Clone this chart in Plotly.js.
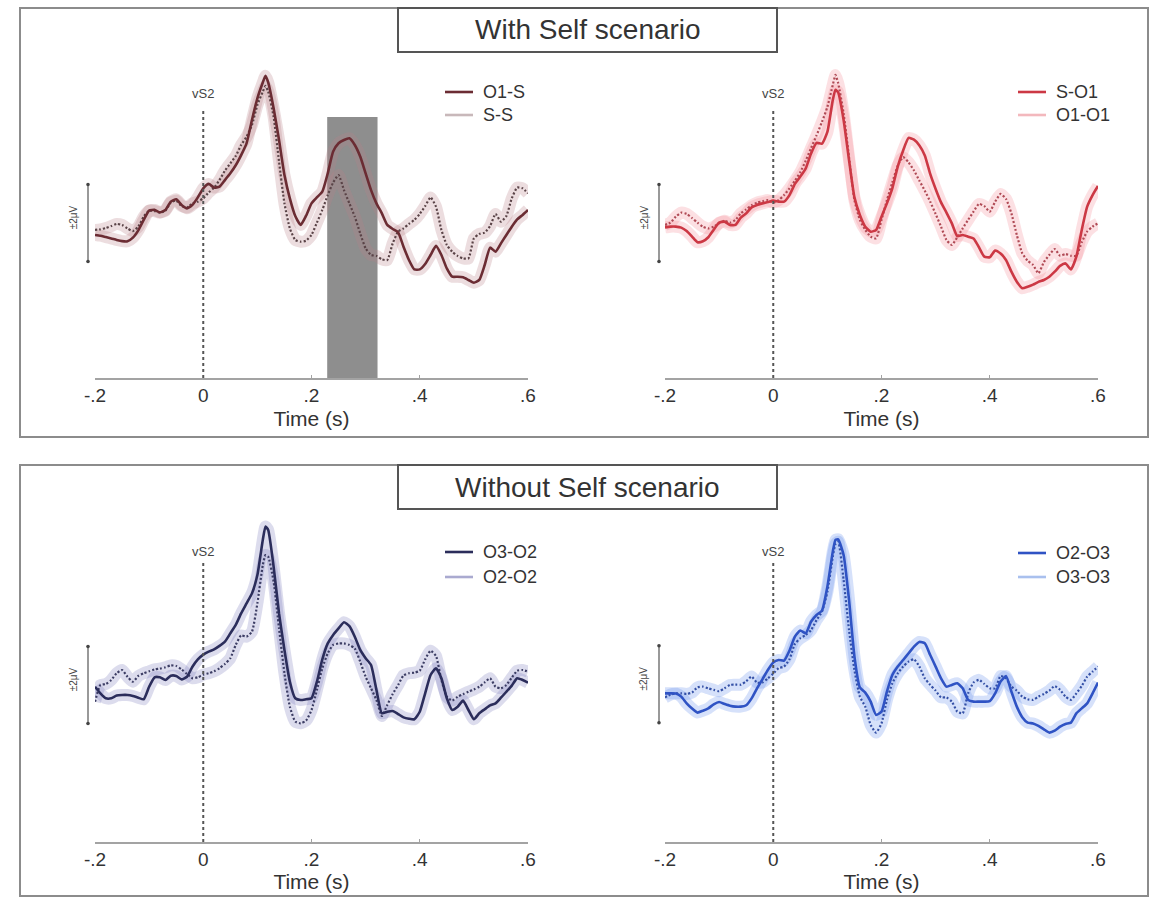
<!DOCTYPE html>
<html>
<head>
<meta charset="utf-8">
<script src="https://cdn.plot.ly/plotly-3.0.1.min.js"></script>
<style>html,body{margin:0;padding:0;background:#fff;}#chart{width:1166px;height:897px;}</style>
</head>
<body>
<div id="chart"></div>
<script>
// ---- data (time in s, amplitude in microvolts) ----
const T = [-0.2,-0.19,-0.18,-0.17,-0.16,-0.15,-0.14,-0.13,-0.12,-0.11,-0.1,-0.09,-0.08,-0.07,-0.06,-0.05,-0.04,-0.03,-0.02,-0.01,
  0,0.01,0.02,0.03,0.04,0.05,0.06,0.07,0.08,0.09,0.1,0.11,0.115,0.12,0.13,0.14,0.15,0.16,0.17,0.18,0.19,
  0.2,0.21,0.22,0.23,0.24,0.25,0.26,0.27,0.28,0.29,0.3,0.31,0.32,0.33,0.34,0.35,0.36,0.37,0.38,0.39,
  0.4,0.41,0.42,0.43,0.44,0.45,0.46,0.47,0.48,0.49,0.5,0.51,0.52,0.53,0.54,0.55,0.56,0.57,0.58,0.59,0.6];

// With Self scenario, left panel
const O1S = [-0.62,-0.66,-0.73,-0.80,-0.88,-0.94,-0.95,-0.76,-0.38,0.16,0.64,0.68,0.55,0.68,1.11,1.23,0.94,0.76,0.94,1.33,
  1.80,2.03,1.84,1.89,2.23,2.58,3.00,3.53,4.14,5.35,6.48,7.30,7.65,7.30,
  5.96,4.31,2.49,1.28,0.36,-0.10,0.38,1.02,1.33,1.63,2.58,3.71,4.14,4.31,4.40,4.05,3.45,2.58,1.71,1.02,
  0.50,-0.10,-0.31,-0.48,-1.23,-1.92,-2.41,-2.41,-2.13,-1.66,-1.19,-1.66,-2.36,-2.79,-2.79,-2.82,-2.96,-3.10,-2.96,-2.18,
  -1.28,-1.49,-1.06,-0.62,-0.19,0.19,0.42,0.68];
const SS = [-0.36,-0.33,-0.26,-0.16,-0.05,-0.10,-0.28,-0.42,-0.19,0.33,0.64,0.62,0.54,0.64,1.06,1.16,0.88,0.81,1.02,1.11,
  1.28,1.58,1.84,2.23,2.72,3.10,3.48,4.05,4.48,5.09,6.13,6.82,7.12,6.82,
  5.52,3.19,1.02,-0.28,-0.88,-0.97,-0.92,-0.62,0.02,0.68,1.45,2.10,2.49,1.71,1.02,0.33,-0.54,-1.32,-1.66,-1.71,
  -1.89,-1.92,-1.06,-0.45,-0.28,-0.05,0.16,0.47,0.88,1.33,0.85,-0.36,-1.14,-1.49,-1.71,-1.84,-1.84,-0.80,-0.57,-0.50,
  -0.16,0.47,0.07,0.36,1.28,1.84,1.80,1.54];
// With Self scenario, right panel
const SO1 = [-0.23,-0.19,-0.19,-0.24,-0.42,-0.71,-1.00,-0.95,-0.74,-0.35,0.02,0.07,-0.10,-0.10,0.28,0.50,0.81,0.94,1.02,1.09,
  1.16,1.11,1.11,1.45,2.03,2.41,2.84,3.62,4.16,4.12,4.73,6.39,6.92,6.78,
  5.35,3.27,1.33,0.42,-0.19,-0.45,-0.36,0.33,1.02,1.80,2.93,3.77,4.42,4.33,4.03,3.51,2.55,1.77,1.07,0.54,
  -0.02,-0.68,-0.62,-0.71,-0.81,-1.26,-1.75,-1.78,-1.43,-1.59,-1.92,-2.53,-3.05,-3.39,-3.31,-3.20,-3.06,-2.96,-2.79,-2.53,
  -2.23,-2.10,-2.41,-1.75,-0.36,0.85,1.45,1.92];
const O1O1 = [-0.10,0.02,0.33,0.54,0.47,0.26,0.02,-0.19,-0.28,-0.19,-0.02,0.12,0.02,0.16,0.50,0.71,0.92,1.06,1.13,1.19,
  1.06,1.19,1.45,1.80,2.20,2.64,3.24,3.90,4.55,5.25,6.03,7.17,7.69,7.26,
  5.70,3.42,1.19,0.16,-0.36,-0.71,-0.80,0.16,1.19,2.11,2.98,3.42,3.15,2.73,2.20,1.68,1.11,0.47,-0.19,-0.88,
  -1.14,-0.74,-0.28,0.16,0.59,0.99,0.88,0.59,1.11,1.51,1.25,0.50,-0.62,-1.57,-1.96,-2.18,-2.61,-2.03,-1.66,-1.35,
  -1.70,-1.61,-1.70,-1.70,-1.00,-0.45,-0.19,-0.02];
// Without Self scenario, left panel
const O3O2 = [-0.09,-0.43,-0.69,-0.69,-0.55,-0.52,-0.52,-0.57,-0.66,-0.74,-0.09,0.40,0.40,0.26,0.48,0.47,0.29,0.43,0.95,1.33,
  1.58,1.73,1.85,2.03,2.25,2.68,3.12,3.72,4.24,4.76,5.71,7.53,8.23,8.05,
  6.15,3.72,1.82,0.17,-0.69,-0.78,-0.74,-0.69,0.17,1.33,2.16,2.60,2.94,3.26,3.06,2.51,1.82,1.39,1.04,-0.26,
  -1.47,-1.39,-1.35,-1.51,-1.68,-1.75,-1.78,-1.39,-0.43,0.52,0.87,0.35,-0.69,-1.30,-1.13,-0.81,-1.30,-1.78,-1.47,-1.26,
  -1.06,-0.95,-0.66,-0.35,-0.03,0.35,0.26,0.12];
const O2O2 = [-0.87,0.00,0.05,0.26,0.61,0.78,0.43,0.17,0.47,0.61,0.71,0.81,0.85,0.92,1.02,0.99,0.81,0.57,0.35,0.40,
  0.54,0.61,0.71,0.87,1.09,1.39,2.08,2.58,2.51,2.77,4.24,6.23,6.75,6.67,
  5.37,2.94,0.61,-1.13,-1.90,-1.99,-1.85,-1.30,-0.26,0.87,1.65,2.08,2.16,2.16,2.08,1.90,1.21,0.43,-0.17,-0.78,
  -1.61,-1.04,-0.47,0.00,0.50,0.61,0.64,0.74,1.33,1.78,1.51,0.26,-0.61,-0.81,-0.61,-0.48,-0.35,-0.23,-0.09,0.14,
  0.35,-0.09,-0.17,0.00,0.38,0.74,0.78,0.69];
// Without Self scenario, right panel
const O2O3 = [-0.47,-0.47,-0.48,-0.64,-0.99,-1.26,-1.47,-1.37,-1.25,-1.04,-0.92,-1.02,-1.11,-1.16,-1.16,-1.09,-0.73,-0.21,0.26,0.74,
  1.13,1.26,1.23,1.75,2.48,2.79,2.65,3.26,3.60,3.83,5.07,6.89,7.50,7.53,
  6.72,4.38,1.44,-0.16,-0.43,-0.90,-1.59,-1.42,-0.38,0.48,0.92,1.26,1.61,1.96,2.20,2.13,1.52,0.92,0.31,-0.12,
  -0.03,0.05,-0.21,-0.81,-0.90,-0.90,-0.90,-0.87,-0.47,0.14,0.43,-0.38,-1.16,-1.71,-1.99,-2.03,-2.16,-2.34,-2.51,-2.41,
  -2.20,-2.06,-1.99,-1.51,-1.25,-0.99,-0.47,0.09];
const O3O3 = [-0.68,-0.54,-0.47,-0.47,-0.50,-0.43,-0.16,-0.12,-0.21,-0.29,-0.36,-0.21,-0.03,-0.02,-0.02,0.16,0.40,0.09,0.09,0.31,
  0.55,0.84,0.92,1.30,2.10,2.39,2.56,2.82,3.34,3.77,4.80,6.63,7.29,7.41,
  5.42,2.82,0.74,-0.64,-1.16,-2.11,-2.51,-2.03,-0.81,0.05,0.57,0.92,1.18,1.30,0.92,0.31,-0.03,-0.33,-0.68,-0.68,
  -0.90,-1.42,-1.51,-0.47,0.09,0.23,0.02,-0.21,-0.21,0.43,0.31,-0.12,-0.33,-0.64,-0.78,-0.81,-0.64,-0.50,-0.33,-0.09,
  -0.29,-0.64,-0.81,-0.47,-0.09,0.40,0.66,0.92];

const xTickVals = [-0.2, 0, 0.2, 0.4, 0.6];
const xTickText = ['-.2', '0', '.2', '.4', '.6'];
const scenarioTitles = ['With Self scenario', 'Without Self scenario'];
const legendNames = [['O1-S', 'S-S'], ['S-O1', 'O1-O1'], ['O3-O2', 'O2-O2'], ['O2-O3', 'O3-O3']];
const seriesSolid = [O1S, SO1, O3O2, O2O3];
const seriesDotted = [SS, O1O1, O2O2, O3O3];
const significantWindow = [0.229, 0.322]; // grey window, top-left panel
const scaleBarUV = 2;
const scaleLabel = '±2μV';
const eventLabel = 'vS2';

// ---- styling / geometry ----
const W = 1166, H = 897, PXUV = 19.25;
const FONT = 'Liberation Sans, Arial, Helvetica, sans-serif';
const panels = [
  {x0:95, x1:528, top:60, bottom:378, center:223, vtop:110, vlab:93, bar:88, legX:445, legY:[92,115],
   cS:'#6b2c33', cD:'#5a4347', band:'rgba(185,130,135,0.27)', legLight:'#c8b8ba', tstand:6},
  {x0:665, x1:1098, top:60, bottom:378, center:223, vtop:110, vlab:93, bar:659, legX:1018, legY:[92,115],
   cS:'#cc3844', cD:'#b04a55', band:'rgba(245,140,150,0.27)', legLight:'#f3b8bd', tstand:6},
  {x0:95, x1:528, top:510, bottom:842, center:685, vtop:563, vlab:551, bar:88, legX:445, legY:[552,577],
   cS:'#2b2d5b', cD:'#3c3d64', band:'rgba(125,125,190,0.27)', legLight:'#aaaad0', tstand:0},
  {x0:665, x1:1098, top:510, bottom:842, center:684.3, vtop:563, vlab:551, bar:659, legX:1018, legY:[553,577],
   cS:'#2f53c4', cD:'#3450a6', band:'rgba(105,145,235,0.27)', legLight:'#a9c0ee', tstand:0}
];

const px2x = p => p / W;
const px2y = p => 1 - p / H;

const data = [];
const layout = {
  width: W, height: H, margin: {l:0, r:0, t:0, b:0},
  paper_bgcolor: '#ffffff', plot_bgcolor: 'rgba(0,0,0,0)',
  showlegend: false, hovermode: false,
  font: {family: FONT, color: '#333'},
  shapes: [], annotations: []
};

// frames and scenario titles
[[8, 437], [465, 896]].forEach((fr, i) => {
  layout.shapes.push({type:'rect', xref:'paper', yref:'paper', x0:px2x(20), x1:px2x(1148), y0:px2y(fr[1]), y1:px2y(fr[0]),
    line:{color:'#8c8c8c', width:2}, fillcolor:'rgba(0,0,0,0)', layer:'below'});
  layout.shapes.push({type:'rect', xref:'paper', yref:'paper', x0:px2x(398), x1:px2x(777), y0:px2y(fr[0] + 44), y1:px2y(fr[0]),
    line:{color:'#555', width:2}, fillcolor:'#ffffff', layer:'above'});
  layout.annotations.push({xref:'paper', yref:'paper', x:px2x(587.5), y:px2y(fr[0] + 22), text:scenarioTitles[i],
    showarrow:false, xanchor:'center', yanchor:'middle', font:{size:28, color:'#333', family:FONT}});
});

panels.forEach((p, i) => {
  const n = i === 0 ? '' : String(i + 1);
  const xa = 'x' + n, ya = 'y' + n;
  const yr = [(p.center - p.bottom) / PXUV, (p.center - p.top) / PXUV];
  layout['xaxis' + n] = {
    domain: [px2x(p.x0), px2x(p.x1)], anchor: ya, range: [-0.2, 0.6],
    showgrid: false, zeroline: false, showline: true, linecolor: '#a3a3a3', linewidth: 1.5,
    ticks: 'inside', ticklen: 3, tickcolor: '#a3a3a3', tickvals: xTickVals, ticktext: xTickText,
    tickfont: {size: 19, color: '#333', family: FONT},
    title: {text: 'Time (s)', font: {size: 21, color: '#333', family: FONT}, standoff: p.tstand}
  };
  layout['yaxis' + n] = {domain: [px2y(p.bottom), px2y(p.top)], anchor: xa, range: yr, visible: false};

  const sol = seriesSolid[i], dot = seriesDotted[i];
  const sm = {shape:'spline', smoothing:0.5};
  data.push({x:T, y:sol, xaxis:xa, yaxis:ya, mode:'lines', line:Object.assign({color:p.band, width:12}, sm), name:legendNames[i][0]+' SE'});
  data.push({x:T, y:dot, xaxis:xa, yaxis:ya, mode:'lines', line:Object.assign({color:p.band, width:12}, sm), name:legendNames[i][1]+' SE'});
  data.push({x:T, y:dot, xaxis:xa, yaxis:ya, mode:'lines', line:Object.assign({color:p.cD, width:2.2, dash:'2px,2px'}, sm), name:legendNames[i][1]});
  data.push({x:T, y:sol, xaxis:xa, yaxis:ya, mode:'lines', line:Object.assign({color:p.cS, width:2.6}, sm), name:legendNames[i][0]});

  // grey significance window in first panel
  if (i === 0) {
    layout.shapes.push({type:'rect', xref:xa, yref:ya, x0:significantWindow[0], x1:significantWindow[1],
      y0:yr[0], y1:(p.center - 117) / PXUV, fillcolor:'#8e8e8e', line:{width:0}, layer:'below'});
  }
  // event line at t = 0
  layout.shapes.push({type:'line', xref:xa, yref:ya, x0:0, x1:0, y0:yr[0], y1:(p.center - p.vtop) / PXUV,
    line:{color:'#555', width:2, dash:'dot'}});
  layout.annotations.push({xref:xa, yref:'paper', x:0, y:px2y(p.vlab), text:eventLabel, showarrow:false,
    xanchor:'center', yanchor:'middle', font:{size:13, color:'#444', family:FONT}});
  // amplitude scale bar
  layout.shapes.push({type:'line', xref:'paper', yref:ya, x0:px2x(p.bar), x1:px2x(p.bar), y0:-scaleBarUV, y1:scaleBarUV,
    line:{color:'#555', width:1.2}});
  [-scaleBarUV, scaleBarUV].forEach(v => layout.shapes.push({type:'circle', xref:'paper', yref:ya,
    xsizemode:'pixel', ysizemode:'pixel', xanchor:px2x(p.bar), yanchor:v, x0:-1.8, x1:1.8, y0:-1.8, y1:1.8,
    fillcolor:'#444', line:{width:0}}));
  layout.annotations.push({xref:'paper', yref:ya, x:px2x(p.bar - 15), y:0.3, text:scaleLabel, showarrow:false,
    textangle:-90, xanchor:'center', yanchor:'middle', font:{size:10, color:'#444', family:FONT}});
  // legend
  [p.cS, p.legLight].forEach((c, k) => {
    layout.shapes.push({type:'line', xref:'paper', yref:'paper', x0:px2x(p.legX), x1:px2x(p.legX + 28),
      y0:px2y(p.legY[k]), y1:px2y(p.legY[k]), line:{color:c, width:2.6}});
    layout.annotations.push({xref:'paper', yref:'paper', x:px2x(p.legX + 36), y:px2y(p.legY[k]), text:legendNames[i][k],
      showarrow:false, xanchor:'left', yanchor:'middle', font:{size:18, color:'#333', family:FONT}});
  });
});

Plotly.newPlot('chart', data, layout, {staticPlot: true, displayModeBar: false});
</script>
</body>
</html>
